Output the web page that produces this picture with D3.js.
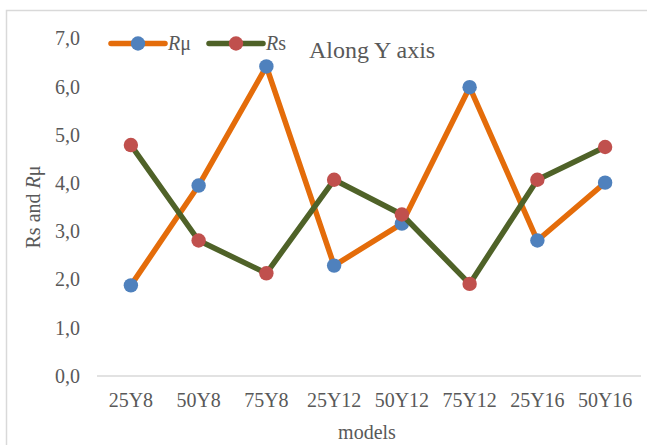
<!DOCTYPE html>
<html>
<head>
<meta charset="utf-8">
<script src="https://cdn.jsdelivr.net/npm/d3@7"></script>
</head>
<body style="margin:0">
<svg id="chart" width="647" height="445" font-family="Liberation Serif"><rect x="6.5" y="10.5" width="700" height="500" fill="#fff" stroke="#D9D9D9" stroke-width="1.5"></rect><text id="title" x="309" y="58" font-size="24" font-family="Liberation Serif" fill="#595959">Along Y axis</text></svg>
<script>
const categories = ["25Y8", "50Y8", "75Y8", "25Y12", "50Y12", "75Y12", "25Y16", "50Y16"];
const rMu = [1.88, 3.95, 6.42, 2.29, 3.16, 5.99, 2.81, 4.01];
const rS  = [4.79, 2.81, 2.13, 4.07, 3.35, 1.91, 4.07, 4.75];
const yTicks = [0, 1, 2, 3, 4, 5, 6, 7];

const FONT = "Liberation Serif";
const TXT = "#595959";
const svg = d3.select("#chart");

const plot = { left: 97, right: 639, top: 38.5, bottom: 376 };
const x = d3.scaleBand().domain(categories).range([plot.left, plot.right]).paddingInner(0).paddingOuter(0);
const y = d3.scaleLinear().domain([0, 7]).range([plot.bottom, plot.top]);

// baseline
svg.append("line").attr("x1", plot.left).attr("x2", plot.right + 2)
  .attr("y1", y(0)).attr("y2", y(0)).attr("stroke", "#D9D9D9").attr("stroke-width", 1.5);

// y axis labels
const yAxis = d3.axisLeft(y).tickValues(yTicks).tickSize(0).tickPadding(17)
  .tickFormat(d => d3.format(".1f")(d).replace(".", ","));
const gy = svg.append("g").attr("transform", `translate(${plot.left},0)`).call(yAxis);
gy.attr("font-family", FONT).attr("font-size", 20);
gy.select(".domain").remove();
gy.selectAll("text").attr("fill", TXT);

// x axis labels
const xAxis = d3.axisBottom(x).tickSize(0).tickPadding(17);
const gx = svg.append("g").attr("transform", `translate(0,${plot.bottom})`).call(xAxis);
gx.attr("font-family", FONT).attr("font-size", 20);
gx.select(".domain").remove();
gx.selectAll("text").attr("fill", TXT);

// axis titles
svg.append("text").attr("x", x("50Y12") - 1).attr("y", 439).attr("text-anchor", "middle")
  .attr("font-family", FONT).attr("font-size", 20).attr("fill", TXT).text("models");

const yt = svg.append("text").attr("transform", "translate(40,207) rotate(-90)")
  .attr("text-anchor", "middle").attr("font-family", FONT).attr("font-size", 20).attr("fill", TXT);
yt.append("tspan").text("Rs and ");
yt.append("tspan").attr("font-style", "italic").text("R");
yt.append("tspan").text("μ");

const cx = d => x(d) + x.bandwidth() / 2;
const series = [
  { name: "μ", values: rMu, line: "#E46C0A", marker: "#4F81BD" },
  { name: "s", values: rS, line: "#4F6228", marker: "#C0504D" }
];

const lineGen = d3.line().x((d, i) => cx(categories[i])).y(d => y(d));

series.forEach(s => {
  svg.append("path").datum(s.values).attr("d", lineGen).attr("fill", "none")
    .attr("stroke", s.line).attr("stroke-width", 5.5).attr("stroke-linejoin", "round").attr("stroke-linecap", "round");
  svg.append("g").selectAll("circle").data(s.values).join("circle")
    .attr("cx", (d, i) => cx(categories[i])).attr("cy", d => y(d)).attr("r", 7.2)
    .attr("fill", s.marker);
});

// legend
const legendItems = [
  { x0: 111, x1: 165, tx: 168, s: series[0] },
  { x0: 209, x1: 263, tx: 266, s: series[1] }
];
const ly = 43.5;
legendItems.forEach(it => {
  svg.append("line").attr("x1", it.x0).attr("x2", it.x1).attr("y1", ly).attr("y2", ly)
    .attr("stroke", it.s.line).attr("stroke-width", 5.5).attr("stroke-linecap", "round");
  svg.append("circle").attr("cx", (it.x0 + it.x1) / 2).attr("cy", ly).attr("r", 7.2).attr("fill", it.s.marker);
  const t = svg.append("text").attr("x", it.tx).attr("y", ly + 6.5).attr("font-family", FONT)
    .attr("font-size", 20).attr("fill", TXT);
  t.append("tspan").attr("font-style", "italic").text("R");
  t.append("tspan").text(it.s.name);
});
</script>
</body>
</html>
